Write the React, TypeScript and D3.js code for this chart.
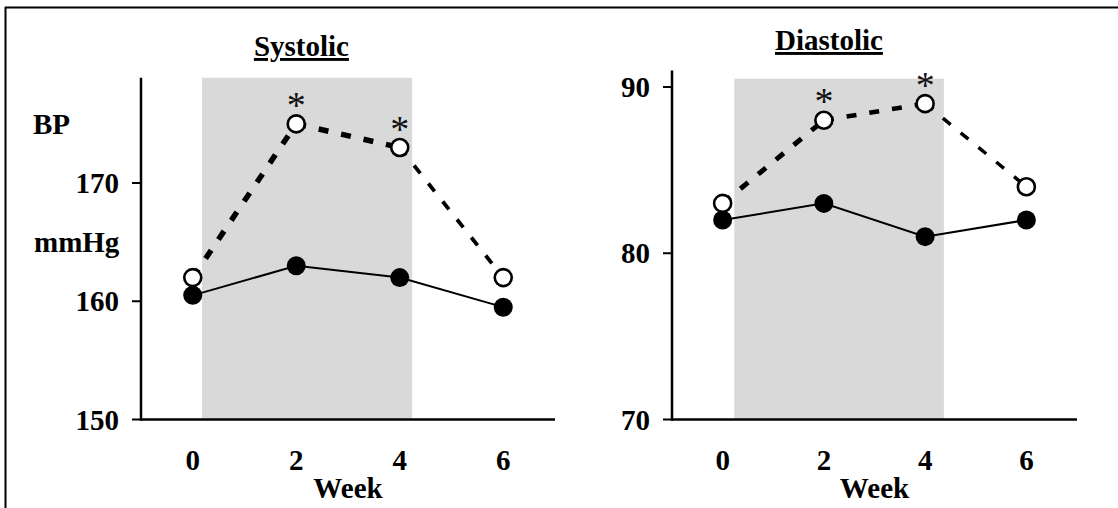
import React from 'react';
import * as d3 from 'd3';

// Weeks on the x axis
const weeks = [0, 2, 4, 6];
const weekTicks = ['0', '2', '4', '6'];

// Systolic BP (mmHg)
const systolicOpen = [162, 175, 173, 162];
const systolicFilled = [160.5, 163, 162, 159.5];
const systolicTicks = [150, 160, 170];
const systolicStars = [2, 4];

// Diastolic BP (mmHg)
const diastolicOpen = [83, 88, 89, 84];
const diastolicFilled = [82, 83, 81, 82];
const diastolicTicks = [70, 80, 90];
const diastolicStars = [2, 4];

// shaded treatment period (weeks)
const systolicShade = [0.18, 4.24];
const diastolicShade = [0.23, 4.37];

const FONT = '"Liberation Serif", "Times New Roman", serif';

type PanelProps = {
  title: string;
  open: number[];
  filled: number[];
  ticks: number[];
  stars: number[];
  shade: number[];
  xRange: [number, number];
  yDomain: [number, number];
  yRange: [number, number];
  yTop: number;
  shadeTop: number;
  titleY: number;
  dashWidths: number[];
};

function Panel(p: PanelProps) {
  const x = d3.scaleLinear().domain([-1, 7]).range(p.xRange);
  const y = d3.scaleLinear().domain(p.yDomain).range(p.yRange);
  const y0 = y(p.yDomain[0]);
  const x0 = p.xRange[0];
  const line = d3.line<[number, number]>().x(d => x(d[0])).y(d => y(d[1]));

  const openPts: [number, number][] = weeks.map((w, i) => [w, p.open[i]]);
  const filledPts: [number, number][] = weeks.map((w, i) => [w, p.filled[i]]);

  return (
    <g>
      <rect x={x(p.shade[0])} y={y(p.shadeTop)} width={x(p.shade[1]) - x(p.shade[0])}
        height={y0 - y(p.shadeTop)} fill="#d9d9d9" />

      {/* axes */}
      <line x1={x0} x2={x0} y1={y(p.yTop)} y2={y0 + 1.25} stroke="#000" strokeWidth={2.5} />
      <line x1={x0} x2={p.xRange[1]} y1={y0} y2={y0} stroke="#000" strokeWidth={2.5} />
      {p.ticks.map(t => (
        <g key={t}>
          <line x1={x0 - 9} x2={x0} y1={y(t)} y2={y(t)} stroke="#000" strokeWidth={2} />
          <text x={x0 - 22} y={y(t)} dy="0.35em" textAnchor="end" fontFamily={FONT}
            fontWeight="bold" fontSize={29}>{t}</text>
        </g>
      ))}
      {weeks.map((w, i) => (
        <text key={w} x={x(w)} y={470} textAnchor="middle" fontFamily={FONT}
          fontWeight="bold" fontSize={29}>{weekTicks[i]}</text>
      ))}
      <text x={x(3)} y={498} textAnchor="middle" fontFamily={FONT} fontWeight="bold"
        fontSize={29}>Week</text>

      <text x={x(2.1)} y={p.titleY} textAnchor="middle" fontFamily={FONT} fontWeight="bold"
        fontSize={29} textDecoration="underline">{p.title}</text>

      {/* dashed series, segment by segment */}
      {openPts.slice(1).map((pt, i) => (
        <path key={i} d={line([openPts[i], pt]) || ''} fill="none" stroke="#000"
          strokeWidth={p.dashWidths[i]} strokeDasharray="10,13" />
      ))}
      <path d={line(filledPts) || ''} fill="none" stroke="#000" strokeWidth={2} />

      {filledPts.map((pt, i) => (
        <circle key={'f' + i} cx={x(pt[0])} cy={y(pt[1])} r={9.5} fill="#000" />
      ))}
      {openPts.map((pt, i) => (
        <circle key={'o' + i} cx={x(pt[0])} cy={y(pt[1])} r={8.5} fill="#fff"
          stroke="#000" strokeWidth={2.6} />
      ))}
      {p.stars.map(w => {
        const v = p.open[weeks.indexOf(w)];
        return (
          <text key={'s' + w} x={x(w)} y={y(v) - 6} textAnchor="middle" fontFamily={FONT}
            fontSize={38} fill="#111">*</text>
        );
      })}
    </g>
  );
}

export default function App() {
  return (
    <svg width={1118} height={508} style={{ position: 'absolute', left: 0, top: 0, background: '#fff' }}>
      <rect width={1118} height={508} fill="#fff" />
      <line x1={5} x2={1118} y1={7.5} y2={7.5} stroke="#000" strokeWidth={2} />
      <line x1={5.5} x2={5.5} y1={7} y2={508} stroke="#000" strokeWidth={2} />

      <Panel title="Systolic" open={systolicOpen} filled={systolicFilled} ticks={systolicTicks}
        stars={systolicStars} shade={systolicShade} xRange={[141, 555]}
        yDomain={[150, 170]} yRange={[419.5, 183]} yTop={178.9} shadeTop={178.9}
        titleY={56} dashWidths={[5.5, 5.5, 3.8]} />
      <Panel title="Diastolic" open={diastolicOpen} filled={diastolicFilled} ticks={diastolicTicks}
        stars={diastolicStars} shade={diastolicShade} xRange={[672, 1077]}
        yDomain={[70, 90]} yRange={[419.5, 87]} yTop={91} shadeTop={90.5}
        titleY={50} dashWidths={[5, 4.6, 3.5]} />

      <text x={33} y={134} fontFamily={FONT} fontWeight="bold" fontSize={29}>BP</text>
      <text x={34} y={252} fontFamily={FONT} fontWeight="bold" fontSize={29}>mmHg</text>
    </svg>
  );
}
